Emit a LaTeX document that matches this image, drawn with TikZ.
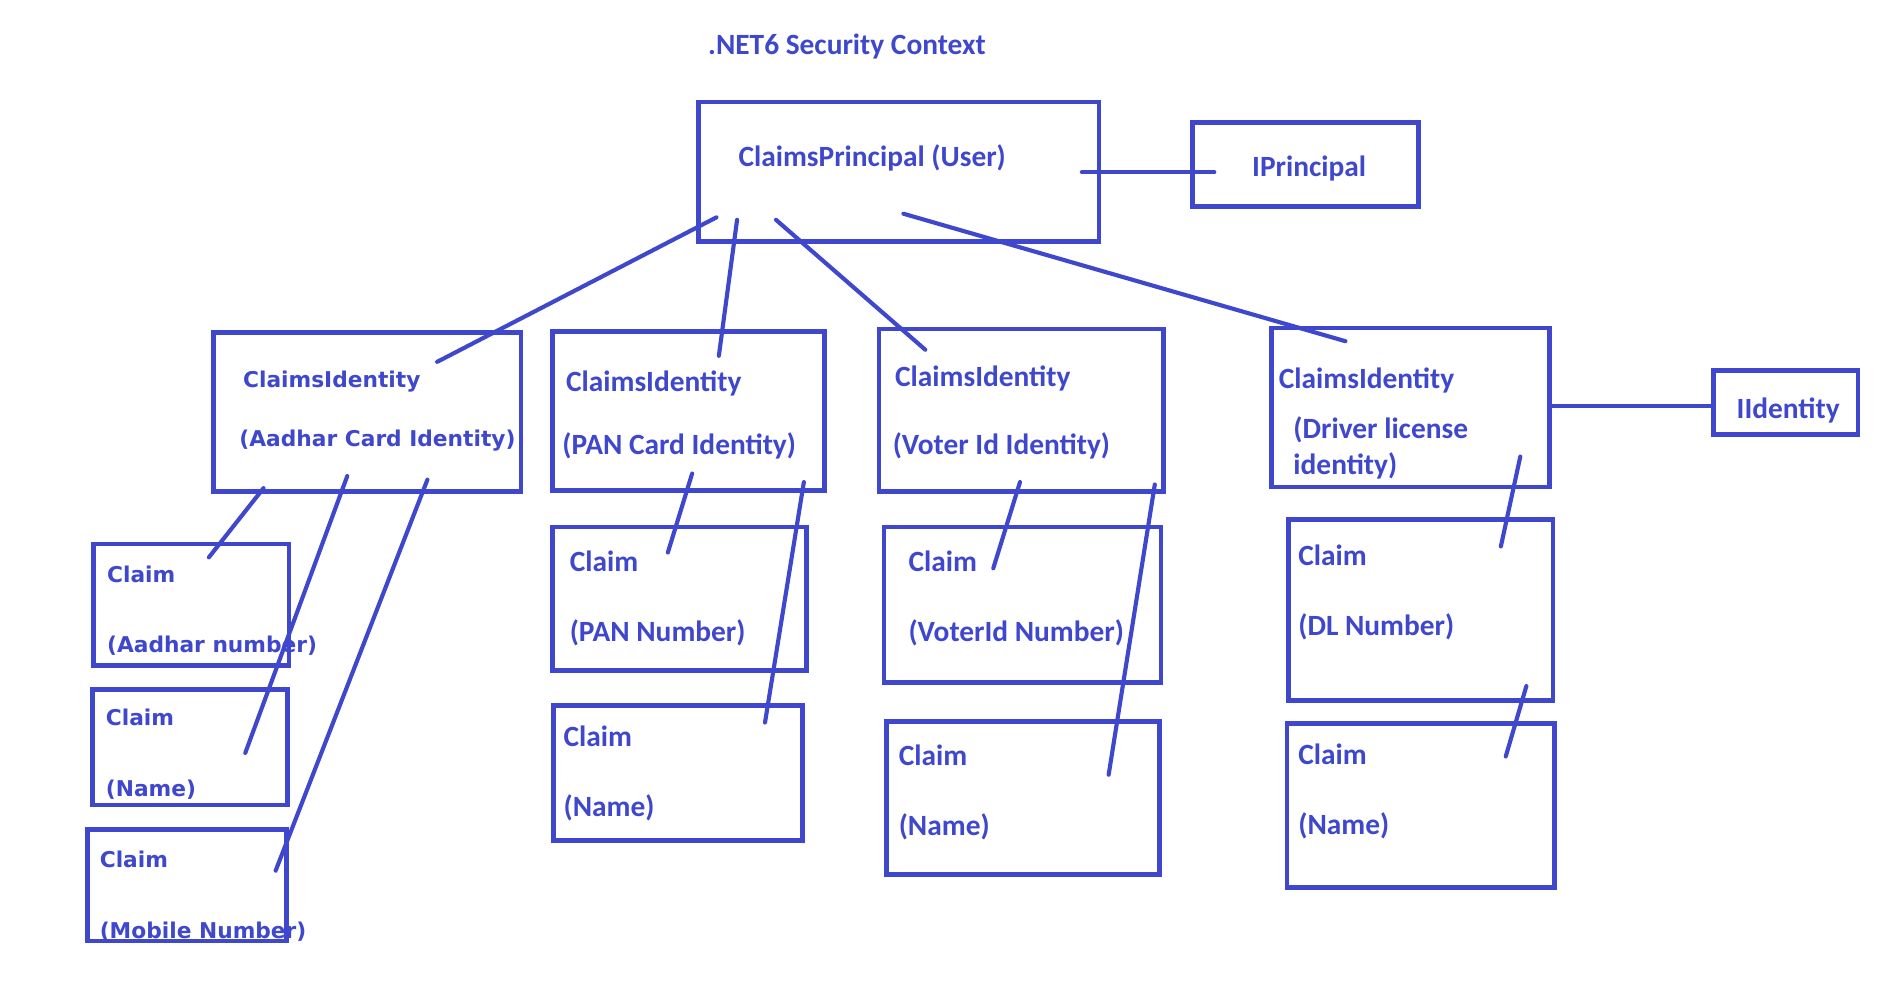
\documentclass[tikz,border=0pt]{standalone}
\usepackage{fontspec}
\usetikzlibrary{fit}
\newfontfamily\calfont{Carlito}
\newfontfamily\vfont{DejaVu Sans}
\definecolor{paint}{RGB}{63,72,204}
\begin{document}
\begin{tikzpicture}[x=1pt,y=-1pt,
  box/.style={draw=paint, line width=3.8pt, line join=miter, inner sep=0pt},
  txt/.style={anchor=west, inner sep=0pt, text=paint, font=\calfont\bfseries\fontsize{24.2}{28}\selectfont},
  vtxt/.style={anchor=west, inner sep=0pt, text=paint, font=\vfont\bfseries\fontsize{17.9}{21}\selectfont},
  wire/.style={draw=paint, line width=3.4pt, line cap=round}]
\fill[white] (0,0) rectangle (1568,827);
\useasboundingbox (0,0) rectangle (1568,827);

% title
\node[txt] (title) at (583,38) {.NET6 Security Context};

% principal
\node[box, fit={(575,84) (905,199)}] (cp) {};
\node[txt] (cpt) at (608,130) {ClaimsPrincipal (User)};
\node[box, fit={(982,101) (1168,170)}] (ip) {};
\node[txt] (ipt) at (1031,139) {IPrincipal};

% identities
\node[box, fit={(176,274) (429,405)}] (ia) {};
\node[vtxt] (iat1) at (200,314) {ClaimsIdentity};
\node[vtxt] (iat2) at (197,363) {(Aadhar Card Identity)};

\node[box, fit={(455,273) (679,404)}] (ipn) {};
\node[txt] (ipt1) at (466,316) {ClaimsIdentity};
\node[txt] (ipt2) at (463,367) {(PAN Card Identity)};

\node[box, fit={(724,271) (958,405)}] (iv) {};
\node[txt] (ivt1) at (737,312) {ClaimsIdentity};
\node[txt] (ivt2) at (735,367) {(Voter Id Identity)};

\node[box, fit={(1047,270) (1276,401)}] (id) {};
\node[txt] (idt1) at (1053,313) {ClaimsIdentity};
\node[txt] (idt2) at (1065,354) {(Driver license};
\node[txt] (idt3) at (1065,384) {identity)};

\node[box, fit={(1411,305) (1530,358)}] (ii) {};
\node[txt] (iit) at (1430,338) {IIdentity};

% claims - Aadhar
\node[box, fit={(77,448) (238,548)}] (a1) {};
\node[vtxt] (a1t1) at (88,473) {Claim};
\node[vtxt] (a1t2) at (88,532) {(Aadhar number)};
\node[box, fit={(76,568) (237,663)}] (a2) {};
\node[vtxt] (a2t1) at (87,591) {Claim};
\node[vtxt] (a2t2) at (87,650) {(Name)};
\node[box, fit={(72,683) (236,775)}] (a3) {};
\node[vtxt] (a3t1) at (82,708) {Claim};
\node[vtxt] (a3t2) at (82,767) {(Mobile Number)};

% claims - PAN
\node[box, fit={(455,434) (664,552)}] (p1) {};
\node[txt] (p1t1) at (469,462) {Claim};
\node[txt] (p1t2) at (469,521) {(PAN Number)};
\node[box, fit={(456,581) (661,692)}] (p2) {};
\node[txt] (p2t1) at (464,606) {Claim};
\node[txt] (p2t2) at (464,665) {(Name)};

% claims - Voter
\node[box, fit={(728,434) (956,562)}] (v1) {};
\node[txt] (v1t1) at (748,462) {Claim};
\node[txt] (v1t2) at (748,521) {(VoterId Number)};
\node[box, fit={(730,594) (955,720)}] (v2) {};
\node[txt] (v2t1) at (740,622) {Claim};
\node[txt] (v2t2) at (740,681) {(Name)};

% claims - DL
\node[box, fit={(1061,428) (1279,577)}] (d1) {};
\node[txt] (d1t1) at (1069,457) {Claim};
\node[txt] (d1t2) at (1069,516) {(DL Number)};
\node[box, fit={(1060,596) (1280,731)}] (d2) {};
\node[txt] (d2t1) at (1069,621) {Claim};
\node[txt] (d2t2) at (1069,680) {(Name)};

% connector end points
\coordinate (cpR) at (891,142);  \coordinate (ipL) at (1000,142);
\coordinate (cpA) at (590,179);  \coordinate (iaT) at (360,298);
\coordinate (cpP) at (607,181);  \coordinate (ipnT) at (592,293);
\coordinate (cpV) at (639,181);  \coordinate (ivT) at (762,288);
\coordinate (cpD) at (744,176);  \coordinate (idT) at (1108,281);
\coordinate (idR) at (1276,334); \coordinate (iiL) at (1411,334);

\coordinate (ia1) at (217,402); \coordinate (a1e) at (172,459);
\coordinate (ia2) at (286,392); \coordinate (a2e) at (202,620);
\coordinate (ia3) at (352,395); \coordinate (a3e) at (227,717);

\coordinate (ip1) at (570,390); \coordinate (p1e) at (550,455);
\coordinate (ip2) at (662,397); \coordinate (p2e) at (630,595);

\coordinate (iv1) at (840,397); \coordinate (v1e) at (818,468);
\coordinate (iv2) at (951,399); \coordinate (v2e) at (913,638);

\coordinate (id1) at (1252,376); \coordinate (d1e) at (1236,450);
\coordinate (id2) at (1257,565); \coordinate (d2e) at (1240,623);

\draw[wire] (cpR) -- (ipL);
\draw[wire] (cpA) -- (iaT);
\draw[wire] (cpP) -- (ipnT);
\draw[wire] (cpV) -- (ivT);
\draw[wire] (cpD) -- (idT);
\draw[wire] (idR) -- (iiL);
\draw[wire] (ia1) -- (a1e);
\draw[wire] (ia2) -- (a2e);
\draw[wire] (ia3) -- (a3e);
\draw[wire] (ip1) -- (p1e);
\draw[wire] (ip2) -- (p2e);
\draw[wire] (iv1) -- (v1e);
\draw[wire] (iv2) -- (v2e);
\draw[wire] (id1) -- (d1e);
\draw[wire] (id2) -- (d2e);
\end{tikzpicture}
\end{document}
